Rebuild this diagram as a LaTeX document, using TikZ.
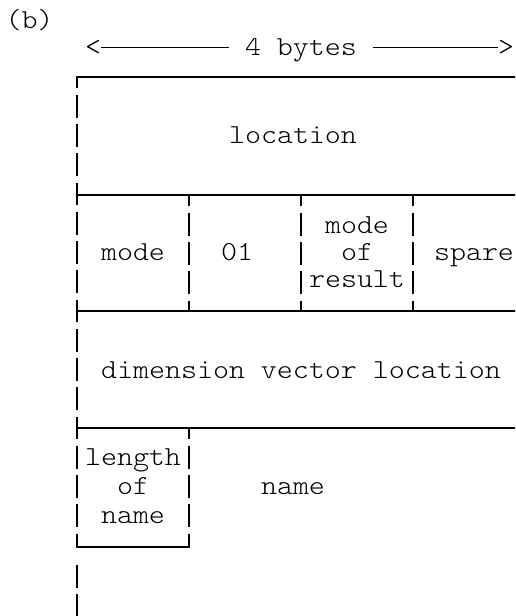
\documentclass[tikz,border=0pt]{standalone}
\usepackage{fontspec}
\setmonofont{Latin Modern Mono Light}[FakeStretch=1.108]
\usepackage{tikz}

\tikzstyle{field} = [font=\ttfamily\fontsize{27.5}{29.25}\selectfont, inner sep=0pt, align=center]
\tikzstyle{rule} = [line width=1.6pt]
\tikzstyle{bar} = [line width=1.6pt, dash pattern=on 22.75pt off 6.5pt, dash phase=11.375pt]
\tikzstyle{byteline} = [line width=1.2pt]

\begin{document}
\begin{tikzpicture}[x=1pt, y=-1pt]
\useasboundingbox (0,0) rectangle (515,616);
\clip (0,0) rectangle (515,616);

% caption and word width
\node (tag) [field, anchor=base] at (29.5,28) {(b)};
\node (bytes) [field, anchor=base] at (301,55) {4 bytes};
\node (lt) [field, anchor=base] at (93,55) {<};
\node (gt) [field, anchor=base] at (506,55) {>};
\draw[byteline, shorten >=16pt] (lt.east) -- (lt.east -| bytes.west);
\draw[byteline, shorten <=16pt] (gt.west -| bytes.east) -- (gt.west);

% record outline
\draw[rule] (76.2,77) -- (520,77);
\draw[rule] (76.2,195) -- (520,195);
\draw[rule] (76.2,311) -- (520,311);
\draw[rule] (76.2,428) -- (520,428);
\draw[rule] (76.2,547) -- (189.8,547);
\draw[bar] (77,77) -- (77,547);
\draw[bar, dash phase=0pt] (77,565) -- (77,620);
\foreach \x in {189,301,413}
  \draw[bar] (\x,195) -- (\x,311);
\draw[bar] (189,428) -- (189,547);

% fields
\node (loc) [field, anchor=base] at (293,143) {location};
\node (mode) [field, anchor=base] at (133,260) {mode};
\node (code) [field, anchor=base] at (237,260) {01};
\node (resmode) [field, font=\ttfamily\fontsize{27.5}{27}\selectfont] at (357,252) {mode\\of\\result};
\node (spare) [field, anchor=base] at (474,260) {spare};
\node (dimvec) [field, anchor=base] at (301,378) {dimension vector location};
\node (namelen) [field] at (133,486) {length\\of\\name};
\node (name) [field, anchor=base] at (293,494) {name};
\end{tikzpicture}
\end{document}
